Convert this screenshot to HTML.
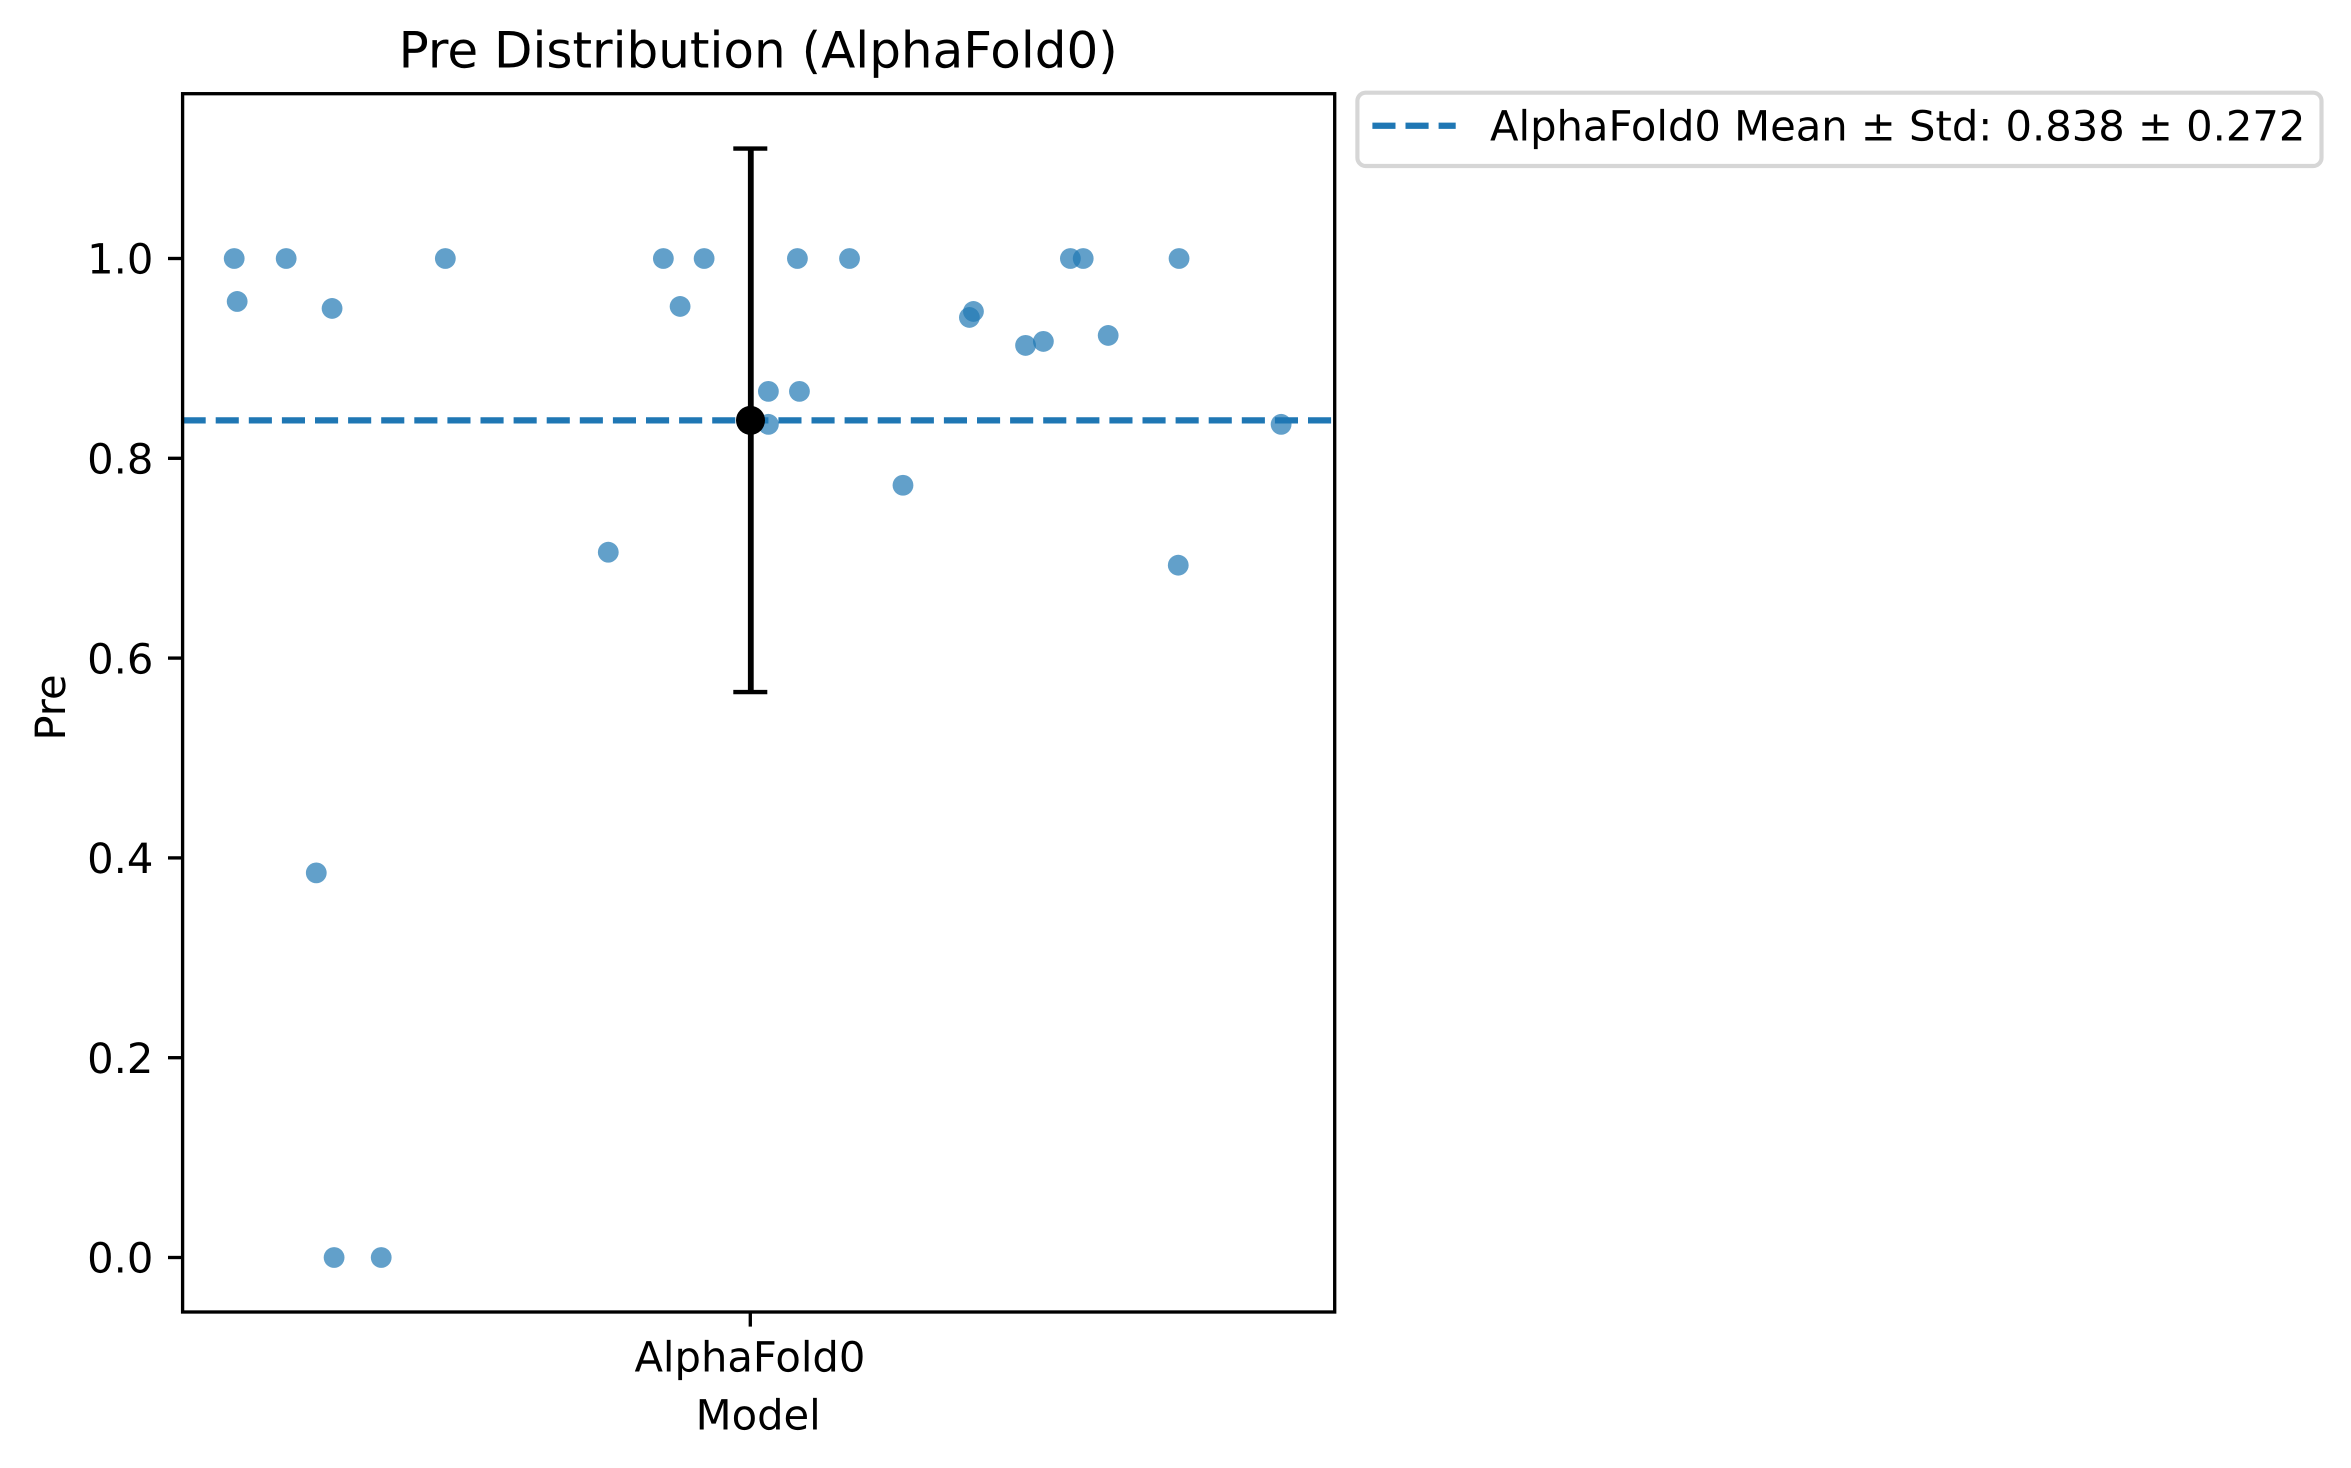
<!DOCTYPE html>
<html lang="en">
<head>
<meta charset="utf-8">
<title>Pre Distribution (AlphaFold0)</title>
<style>
html,body{margin:0;padding:0;background:#fff;width:2351px;height:1468px;overflow:hidden}
svg{display:block}
text{font-family:"DejaVu Sans","Liberation Sans",sans-serif;fill:#000;text-rendering:geometricPrecision}
</style>
</head>
<body>
<svg id="chart" xmlns="http://www.w3.org/2000/svg" width="2351" height="1468" viewBox="0 0 2351 1468">
  <rect x="0" y="0" width="2351" height="1468" fill="#fff"/>
  <defs><clipPath id="plot-clip"><rect x="182.6" y="93.7" width="1152.1" height="1218.3"/></clipPath></defs>
  <g id="marks" clip-path="url(#plot-clip)"></g>
  <g id="axes"></g>
  <text x="758.2" y="67.7" font-size="50" text-anchor="middle">Pre Distribution (AlphaFold0)</text>
  <text x="758.2" y="1429.3" font-size="41.67" text-anchor="middle">Model</text>
  <text x="65" y="707.5" font-size="41.67" text-anchor="middle" transform="rotate(-90 65 707.5)">Pre</text>
  <g>
    <rect x="1357.4" y="92.7" width="964.1" height="73.3" rx="8.3" ry="8.3" fill="#fff" stroke="#d6d6d6" stroke-width="4.17"/>
    <line x1="1372.4" y1="125.7" x2="1455.7" y2="125.7" stroke="#1f77b4" stroke-width="6.25" stroke-dasharray="23.1 10"/>
    <text x="1490" y="140.7" font-size="41.67">AlphaFold0 Mean ± Std: 0.838 ± 0.272</text>
  </g>
</svg>
<script>
const categories = ['AlphaFold0'];
const yTickLabels = ['0.0', '0.2', '0.4', '0.6', '0.8', '1.0'];
const yTickValues = [0, 0.2, 0.4, 0.6, 0.8, 1.0];
const jitterOffsets = [-0.3823, -0.3801, -0.3438, -0.3098, -0.3215, -0.3083, -0.2734, -0.2259, -0.1052, -0.0644, -0.0520, -0.0342, 0.0134, 0.0134, 0.0349, 0.0364, 0.0735, 0.1131, 0.1623, 0.1653, 0.2039, 0.2171, 0.2371, 0.2466, 0.2651, 0.3170, 0.3176, 0.3932];
const preValues = [1.0, 0.957, 1.0, 0.95, 0.385, 0.0, 0.0, 1.0, 0.706, 1.0, 0.952, 1.0, 0.867, 0.834, 1.0, 0.867, 1.0, 0.773, 0.941, 0.947, 0.913, 0.917, 1.0, 1.0, 0.923, 0.693, 1.0, 0.834];
const meanValues = [0.838];
const stdValues = [0.272];

const SVG_NS = 'http://www.w3.org/2000/svg';
const xDomain = [-0.42052, 0.43289];
const xRange = [182.6, 1334.7];
const yDomain = [0, 1];
const yRange = [1257.5, 258.5];
function xScale(v) {
  return xRange[0] + (v - xDomain[0]) / (xDomain[1] - xDomain[0]) * (xRange[1] - xRange[0]);
}
function yScale(v) {
  return yRange[0] + (v - yDomain[0]) / (yDomain[1] - yDomain[0]) * (yRange[1] - yRange[0]);
}
function make(tag, parent, attrs) {
  const el = document.createElementNS(SVG_NS, tag);
  Object.keys(attrs).forEach(function (k) { el.setAttribute(k, attrs[k]); });
  parent.appendChild(el);
  return el;
}
const marks = document.getElementById('marks');
const axes = document.getElementById('axes');

jitterOffsets.forEach(function (off, i) {
  const dot = make('circle', marks, { cx: xScale(off), cy: yScale(preValues[i]), r: 10.4, fill: '#1f77b4', 'fill-opacity': 0.7 });
  
  
});

categories.forEach(function (cat, i) {
  const mean = meanValues[i];
  const std = stdValues[i];
  const mx = xScale(i);

  const meanLine = make('line', marks, { x1: xRange[0], x2: xRange[1], y1: yScale(mean), y2: yScale(mean), stroke: '#1f77b4', 'stroke-width': 6.25, 'stroke-dasharray': '23.1 10' });
  
  

  const errLine = make('line', marks, { x1: mx + 0.5, x2: mx + 0.5, y1: yScale(mean + std), y2: yScale(mean - std), stroke: '#000', 'stroke-width': 5.8 });
  
  

  const capTop = make('line', marks, { x1: mx - 17, x2: mx + 17, y1: yScale(mean + std), y2: yScale(mean + std), stroke: '#000', 'stroke-width': 4.4 });
  
  

  const capBottom = make('line', marks, { x1: mx - 17, x2: mx + 17, y1: yScale(mean - std), y2: yScale(mean - std), stroke: '#000', 'stroke-width': 4.4 });
  
  

  const meanDot = make('circle', marks, { cx: mx + 0.2, cy: yScale(mean), r: 14.5, fill: '#000' });
  
  

  const tick = make('line', axes, { x1: mx, x2: mx, y1: 1312, y2: 1326.6, stroke: '#000', 'stroke-width': 3.33 });
  
  

  const label = make('text', axes, { x: mx - 0.4, y: 1371.7, 'font-size': 41.67, 'text-anchor': 'middle' });
  label.textContent = cat;
  
  
});

yTickValues.forEach(function (v, i) {
  const y = yScale(v);
  const tick = make('line', axes, { x1: 168, x2: 182.6, y1: y, y2: y, stroke: '#000', 'stroke-width': 3.33 });
  
  

  const label = make('text', axes, { x: 153.4, y: y + 15.2, 'font-size': 41.67, 'text-anchor': 'end' });
  label.textContent = yTickLabels[i];
  
  
});

const spine = make('rect', axes, { x: xRange[0], y: 93.7, width: xRange[1] - xRange[0], height: 1218.3, fill: 'none', stroke: '#000', 'stroke-width': 3.33 });


</script>
</body>
</html>
